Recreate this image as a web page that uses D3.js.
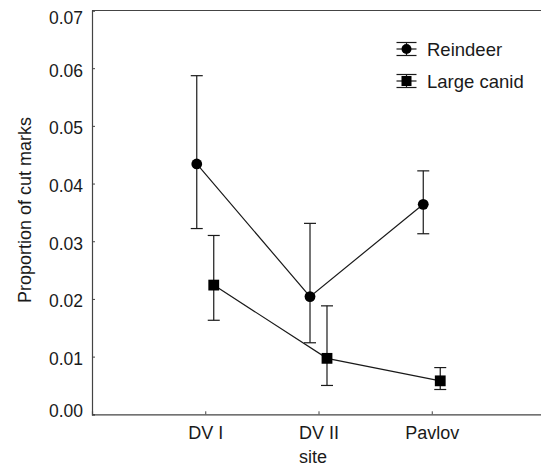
<!DOCTYPE html>
<html>
<head>
<meta charset="utf-8">
<script src="https://cdn.jsdelivr.net/npm/d3@7"></script>
<style>
  html, body { margin: 0; padding: 0; background: #fff; }
  svg { display: block; }
  text { font-family: "Liberation Sans", Arial, sans-serif; fill: #1a1a1a; }
</style>
</head>
<body>
<svg id="chart" width="541" height="466"></svg>
<script>
const sites = ["DV I", "DV II", "Pavlov"];
const reindeerMean  = [0.0434, 0.0204, 0.0364];
const reindeerUpper = [0.0587, 0.0331, 0.0422];
const reindeerLower = [0.0322, 0.0124, 0.0313];
const canidMean  = [0.0224, 0.0097, 0.0058];
const canidUpper = [0.0310, 0.0188, 0.0081];
const canidLower = [0.0163, 0.0050, 0.0043];
const yTicks = [0.00, 0.01, 0.02, 0.03, 0.04, 0.05, 0.06, 0.07];
const seriesNames = ["Reindeer", "Large canid"];

const svg = d3.select("#chart");
const pLeft = 92, pRight = 545, pTop = 10.5, pBottom = 414.3;

const x = d3.scaleLinear().domain([0, 4]).range([pLeft, pRight]);
const y = d3.scaleLinear().domain([0, 0.07]).range([pBottom, pTop]);
const offset = 0.075;
const ink = "#1a1a1a";
const axisColor = "#444";

// frame
svg.append("line").attr("x1", pLeft).attr("x2", pRight).attr("y1", pTop).attr("y2", pTop)
  .attr("stroke", axisColor).attr("stroke-width", 1.2);

// y axis
const yAxis = d3.axisLeft(y).tickValues(yTicks).tickSize(-3).tickFormat(d3.format(".2f"));
const gy = svg.append("g").attr("transform", `translate(${pLeft},0)`).call(yAxis);
gy.select(".domain").attr("stroke", axisColor).attr("stroke-width", 1.2);
gy.selectAll(".tick line").attr("stroke", axisColor);
gy.selectAll(".tick text")
  .attr("x", -9)
  .attr("font-size", 17.5)
  .attr("fill", ink)
  .attr("font-family", "Liberation Sans, Arial, sans-serif")
  .attr("dy", null)
  .attr("y", d => Math.max(17.5 - y(d), Math.min(410.5 - y(d), 2)) )
  .attr("dominant-baseline", "central");

// x axis
const xAxis = d3.axisBottom(x).tickValues([1, 2, 3]).tickSize(-3).tickFormat(d => sites[d - 1]);
const gx = svg.append("g").attr("transform", `translate(0,${pBottom})`).call(xAxis);
gx.select(".domain").attr("stroke", axisColor).attr("stroke-width", 1.2);
gx.selectAll(".tick line").attr("stroke", axisColor);
gx.selectAll(".tick text")
  .attr("y", 25).attr("dy", null)
  .attr("font-size", 18).attr("fill", ink)
  .attr("font-family", "Liberation Sans, Arial, sans-serif");

// axis titles
svg.append("text").attr("x", 313).attr("y", 463).attr("text-anchor", "middle")
  .attr("font-size", 18).text("site");
svg.append("text").attr("transform", "translate(31,210) rotate(-90)")
  .attr("text-anchor", "middle").attr("font-size", 18).text("Proportion of cut marks");

function drawSeries(mean, upper, lower, dx, shape) {
  const pts = mean.map((m, i) => ({ xv: i + 1 + dx, m, u: upper[i], l: lower[i] }));
  const g = svg.append("g");
  g.append("path")
    .attr("d", d3.line().x(d => x(d.xv)).y(d => y(d.m))(pts))
    .attr("fill", "none").attr("stroke", ink).attr("stroke-width", 1.2);
  const eb = g.selectAll(".eb").data(pts).enter().append("g");
  eb.append("line").attr("x1", d => x(d.xv)).attr("x2", d => x(d.xv))
    .attr("y1", d => y(d.u)).attr("y2", d => y(d.l)).attr("stroke", ink).attr("stroke-width", 1.2);
  eb.append("line").attr("x1", d => x(d.xv) - 6).attr("x2", d => x(d.xv) + 6)
    .attr("y1", d => y(d.u)).attr("y2", d => y(d.u)).attr("stroke", ink).attr("stroke-width", 1.2);
  eb.append("line").attr("x1", d => x(d.xv) - 6).attr("x2", d => x(d.xv) + 6)
    .attr("y1", d => y(d.l)).attr("y2", d => y(d.l)).attr("stroke", ink).attr("stroke-width", 1.2);
  if (shape === "circle") {
    g.selectAll(".mk").data(pts).enter().append("circle")
      .attr("cx", d => x(d.xv)).attr("cy", d => y(d.m)).attr("r", 5.4).attr("fill", "#000");
  } else {
    g.selectAll(".mk").data(pts).enter().append("rect")
      .attr("x", d => x(d.xv) - 5.4).attr("y", d => y(d.m) - 5.4)
      .attr("width", 10.8).attr("height", 10.8).attr("fill", "#000");
  }
}
drawSeries(reindeerMean, reindeerUpper, reindeerLower, -offset, "circle");
drawSeries(canidMean, canidUpper, canidLower, offset, "square");

// legend
const legendY = [49, 81];
const lx = 406.5;
seriesNames.forEach((name, i) => {
  const cy = legendY[i];
  const g = svg.append("g");
  [-6.5, 0, 6.5].forEach(dy => {
    g.append("line").attr("x1", lx - 10).attr("x2", lx + 10).attr("y1", cy + dy).attr("y2", cy + dy)
      .attr("stroke", ink).attr("stroke-width", 1.2);
  });
  g.append("line").attr("x1", lx).attr("x2", lx).attr("y1", cy - 6.5).attr("y2", cy + 6.5)
    .attr("stroke", ink).attr("stroke-width", 1.2);
  if (i === 0) {
    g.append("circle").attr("cx", lx).attr("cy", cy).attr("r", 5).attr("fill", "#000");
  } else {
    g.append("rect").attr("x", lx - 5).attr("y", cy - 5).attr("width", 10).attr("height", 10).attr("fill", "#000");
  }
  g.append("text").attr("x", 427).attr("y", cy).attr("dominant-baseline", "central")
    .attr("font-size", 18.5).text(name);
});
</script>
</body>
</html>
